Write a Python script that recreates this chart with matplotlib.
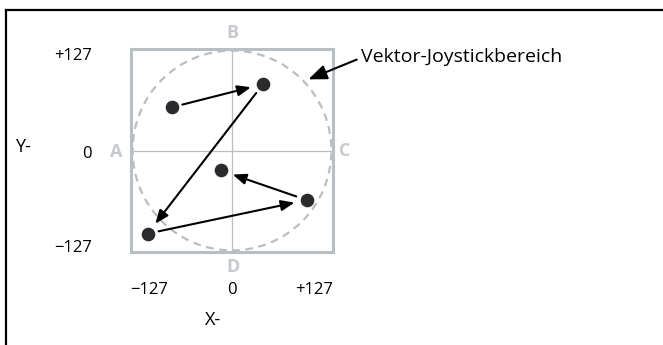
import matplotlib
matplotlib.use("Agg")
import matplotlib.pyplot as plt
from matplotlib.patches import Circle
from matplotlib.lines import Line2D

# joystick positions (X, Y) in the -127..+127 range
pos_x = [-76, 39, -106, 94, -14]
pos_y = [54, 83, -104, -62, -25]
# path order between the positions
path = [0, 1, 2, 3, 4]

x_ticks = ["\u2212127", "0", "+127"]
y_ticks = ["+127", "0", "\u2212127"]
corner_labels = ["A", "B", "C", "D"]
area_label = "Vektor-Joystickbereich"

GRAY = "#b9bec4"
LGRAY = "#c6cace"
DOT = "#2b2b2e"

plt.rcParams["font.family"] = ["Open Sans", "DejaVu Sans"]

fig = plt.figure(figsize=(6.63, 3.45), dpi=100)
W, H = 663, 345

# outer frame (only top and left edges show)
fig.add_artist(Line2D([6 / W, 1], [1 - 10 / H, 1 - 10 / H], color="black", lw=1.6))
fig.add_artist(Line2D([6 / W, 6 / W], [0, 1 - 10 / H], color="black", lw=1.6))

ax = fig.add_axes([131 / W, 1 - 252 / H, 202 / W, 203 / H])
ax.set_xlim(-127, 127)
ax.set_ylim(-127, 127)
ax.set_xticks([])
ax.set_yticks([])
for s in ax.spines.values():
    s.set_color(GRAY)
    s.set_linewidth(2.2)

ax.axhline(0, color=GRAY, lw=0.9, zorder=1)
ax.axvline(0, color=GRAY, lw=0.9, zorder=1)
ax.add_patch(Circle((0, 0), 125, fill=False, ec=GRAY, lw=1.6,
                    ls=(0, (3.5, 2.5)), zorder=1, clip_on=False))

# arrows along the path
astyle = "-|>,head_length=0.8,head_width=0.32"
for a, b in zip(path[:-1], path[1:]):
    ax.annotate("", xy=(pos_x[b], pos_y[b]), xytext=(pos_x[a], pos_y[a]),
                arrowprops=dict(arrowstyle=astyle, color="black", lw=1.5,
                                shrinkA=8, shrinkB=9),
                zorder=3)
ax.plot(pos_x, pos_y, "o", color=DOT, ms=8.8, ls="none", zorder=4)

# corner letters
kw = dict(color=LGRAY, fontsize=13, fontweight="bold", ha="center", va="center",
          clip_on=False)
ax.text(-145, -2, corner_labels[0], **kw)
ax.text(1, 147, corner_labels[1], **kw)
ax.text(142, 0, corner_labels[2], **kw)
ax.text(1, -146, corner_labels[3], **kw)

tkw = dict(color="black", fontsize=12, va="center", clip_on=False)
ax.text(-176, 118, y_ticks[0], ha="right", **tkw)
ax.text(-176, -5, y_ticks[1], ha="right", **tkw)
ax.text(-176, -122, y_ticks[2], ha="right", **tkw)
ax.text(-128, -175, x_ticks[0], ha="left", **tkw)
ax.text(0, -175, x_ticks[1], ha="center", **tkw)
ax.text(127, -175, x_ticks[2], ha="right", **tkw)
ax.text(-273, 4, "Y-", ha="left", fontsize=13, va="center", clip_on=False)
ax.text(-24, -212, "X-", ha="center", fontsize=13, va="center", clip_on=False)

ax.annotate(area_label, xy=(96, 89), xytext=(162, 117),
            fontsize=14, va="center", ha="left",
            arrowprops=dict(arrowstyle=astyle, color="black", lw=1.5,
                            shrinkA=1, shrinkB=0, relpos=(0, 0.45)),
            annotation_clip=False)

fig.savefig("out.png", dpi=100)
